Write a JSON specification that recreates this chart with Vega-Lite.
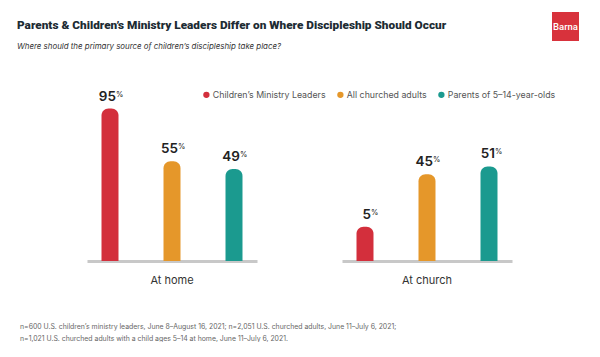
{
  "$schema": "https://vega.github.io/schema/vega-lite/v6.json",
  "padding": {"left": 17, "top": 12, "right": 0, "bottom": 0},
  "background": "white",
  "spacing": 37,
  "vconcat": [
    {
      "spacing": 0,
      "hconcat": [
        {
          "data": {"values": []},
          "width": 465,
          "height": 1,
          "title": {
            "text": "Parents & Children’s Ministry Leaders Differ on Where Discipleship Should Occur",
            "subtitle": "Where should the primary source of children’s discipleship take place?",
            "orient": "bottom",
            "anchor": "start",
            "frame": "group",
            "dx": -70,
            "offset": 7,
            "font": "Roboto",
            "fontSize": 11.8,
            "fontWeight": 900,
            "color": "#1c2b33",
            "subtitleFont": "Inter",
            "subtitleFontSize": 7.9,
            "subtitleFontStyle": "italic",
            "subtitleColor": "#333333",
            "subtitlePadding": 11.5
          },
          "mark": "point",
          "encoding": {}
        },
        {
          "data": {"values": [{"brand": "Barna"}]},
          "width": 27,
          "height": 29,
          "layer": [
            {"mark": {"type": "rect", "color": "#d8323c"}, "encoding": {}},
            {
              "mark": {"type": "text", "color": "white", "font": "Roboto", "fontSize": 9.5, "fontWeight": 500},
              "encoding": {"text": {"field": "brand", "type": "nominal"}}
            }
          ]
        }
      ]
    },
    {
      "data": {
        "values": [
          {"place": "At home", "group": "Children’s Ministry Leaders", "value": 95},
          {"place": "At home", "group": "All churched adults", "value": 55},
          {"place": "At home", "group": "Parents of 5–14-year-olds", "value": 49},
          {"place": "At church", "group": "Children’s Ministry Leaders", "value": 5},
          {"place": "At church", "group": "All churched adults", "value": 45},
          {"place": "At church", "group": "Parents of 5–14-year-olds", "value": 51}
        ]
      },
      "title": {
        "text": [
          "n=600 U.S. children’s ministry leaders, June 8–August 16, 2021; n=2,051 U.S. churched adults, June 11–July 6, 2021;",
          "n=1,021 U.S. churched adults with a child ages 5–14 at home, June 11–July 6, 2021."
        ],
        "orient": "bottom",
        "anchor": "start",
        "frame": "group",
        "dx": -67,
        "font": "Inter",
        "fontSize": 6.9,
        "fontWeight": "normal",
        "color": "#666666",
        "lineHeight": 12,
        "offset": 38
      },
      "facet": {
        "column": {
          "field": "place",
          "type": "nominal",
          "sort": ["At home", "At church"],
          "header": {
            "title": null,
            "labelOrient": "bottom",
            "labelFont": "Inter",
            "labelFontSize": 11,
            "labelColor": "#333333",
            "labelPadding": 14
          }
        }
      },
      "spacing": 85,
      "spec": {
        "width": 170,
        "height": 159,
        "encoding": {
          "x": {
            "field": "group",
            "type": "nominal",
            "sort": ["Children’s Ministry Leaders", "All churched adults", "Parents of 5–14-year-olds"],
            "scale": {"paddingInner": 0.726, "paddingOuter": 0.234},
            "axis": {"labels": false, "ticks": false, "title": null, "domainColor": "#c8c8c8", "domainWidth": 3}
          }
        },
        "layer": [
          {
            "mark": {"type": "bar", "cornerRadiusTopLeft": 7, "cornerRadiusTopRight": 7},
            "encoding": {
              "y": {"field": "value", "type": "quantitative", "scale": {"domain": [-21, 100], "zero": false, "nice": false}, "axis": null},
              "y2": {"datum": -21},
              "color": {
                "field": "group",
                "type": "nominal",
                "sort": ["Children’s Ministry Leaders", "All churched adults", "Parents of 5–14-year-olds"],
                "scale": {"range": ["#d32f3c", "#e5972a", "#1b9a8f"]},
                "legend": {
                  "title": null,
                  "orient": "none",
                  "direction": "horizontal",
                  "legendX": 115,
                  "legendY": 78,
                  "symbolType": "circle",
                  "symbolSize": 40,
                  "labelFont": "Inter",
                  "labelFontSize": 8.8,
                  "labelColor": "#555555",
                  "columnPadding": 10,
                  "labelOffset": 2
                }
              }
            }
          },
          {
            "mark": {"type": "text", "align": "right", "baseline": "alphabetic", "dx": 6, "dy": -8, "font": "Inter", "fontSize": 13.5, "fontWeight": 600, "color": "#222222"},
            "encoding": {
              "y": {"field": "value", "type": "quantitative"},
              "text": {"field": "value", "type": "quantitative"}
            }
          },
          {
            "mark": {"type": "text", "align": "left", "baseline": "alphabetic", "dx": 6, "dy": -12, "font": "Inter", "fontSize": 7.5, "color": "#222222"},
            "encoding": {
              "y": {"field": "value", "type": "quantitative"},
              "text": {"value": "%"}
            }
          }
        ]
      }
    }
  ],
  "config": {"view": {"stroke": null}}
}
